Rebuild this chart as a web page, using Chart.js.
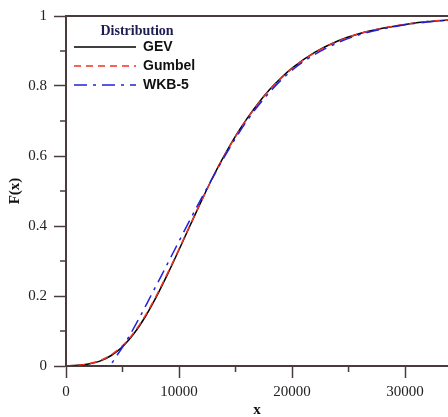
<!DOCTYPE html>
<html>
<head>
<meta charset="utf-8">
<script src="https://cdn.jsdelivr.net/npm/chart.js@4.4.1/dist/chart.umd.min.js"></script>
<style>
  html, body { margin: 0; padding: 0; background: #fff; }
  #wrap { width: 448px; height: 417px; }
</style>
</head>
<body>
<div id="wrap"><canvas id="cdfChart" width="448" height="417"></canvas></div>
<script>
// Values
const xValues = [0, 1000, 2000, 3000, 4000, 5000, 6000, 7000, 8000, 9000, 10000, 11000, 12000,
    13000, 14000, 15000, 16000, 17000, 18000, 19000, 20000, 22000, 24000, 26000, 28000, 30000, 32000, 34000];
const gevValues = [0.0004, 0.0018, 0.0058, 0.014, 0.030, 0.055, 0.092, 0.140, 0.198, 0.263, 0.332, 0.403, 0.473,
    0.540, 0.601, 0.657, 0.706, 0.750, 0.789, 0.822, 0.851, 0.896, 0.928, 0.950, 0.965, 0.976, 0.984, 0.989];
const gumbelValues = [0.0006, 0.0022, 0.0065, 0.0155, 0.032, 0.058, 0.095, 0.143, 0.201, 0.266, 0.334, 0.404, 0.473,
    0.539, 0.600, 0.656, 0.705, 0.749, 0.788, 0.821, 0.850, 0.895, 0.927, 0.950, 0.965, 0.976, 0.984, 0.989];

const wkbX = [0, 1000, 2000, 3000, 3800, 4500, 5500, 6500, 7500, 8500, 9500, 10500, 11500, 12500,
    14000, 16000, 18000, 20000, 22000, 24000, 26000, 28000, 30000, 32000, 34000];
const wkbValues = [0, 0, 0, 0, 0.002, 0.030, 0.080, 0.138, 0.200, 0.262, 0.325, 0.388, 0.450, 0.510,
    0.597, 0.700, 0.782, 0.845, 0.890, 0.923, 0.947, 0.963, 0.975, 0.983, 0.989];

const seriesNames = ['GEV', 'Gumbel', 'WKB-5'];
const legendTitle = 'Distribution';
const xTitle = 'x';
const yTitle = 'F(x)';

// tick labels on the axes, and the unlabelled ticks in between
const xTickValues = [0, 10000, 20000, 30000];
const yTickValues = [0, 0.2, 0.4, 0.6, 0.8, 1];
const xMinorTicks = [5000, 15000, 25000];
const yMinorTicks = [0.1, 0.3, 0.5, 0.7, 0.9];

const axisColor = '#4a3c3c';
const serif = '"Liberation Serif", "Times New Roman", serif';

function toPoints(xs, ys) {
    return xs.map((x, i) => ({ x: x, y: ys[i] }));
}

// Frame top line, minor ticks and the boxed-in legend
const extrasPlugin = {
    id: 'extras',
    afterDraw(chart) {
        const ctx = chart.ctx;
        const area = chart.chartArea;
        const xs = chart.scales.x;
        const ys = chart.scales.y;
        ctx.save();
        ctx.strokeStyle = axisColor;
        ctx.lineWidth = 2;
        ctx.beginPath();
        ctx.moveTo(area.left, area.top);
        ctx.lineTo(area.right, area.top);
        ctx.stroke();

        // minor ticks
        ctx.lineWidth = 1.5;
        ctx.beginPath();
        xMinorTicks.forEach(v => {
            const px = xs.getPixelForValue(v);
            ctx.moveTo(px, area.bottom);
            ctx.lineTo(px, area.bottom + 6);
        });
        yMinorTicks.forEach(v => {
            const py = ys.getPixelForValue(v);
            ctx.moveTo(area.left, py);
            ctx.lineTo(area.left - 6, py);
        });
        ctx.stroke();

        // legend
        const lx = area.left + 8;
        ctx.fillStyle = '#1c1c4e';
        ctx.font = 'bold 14px ' + serif;
        ctx.textAlign = 'center';
        ctx.textBaseline = 'middle';
        ctx.fillText(legendTitle, 137, 31);
        chart.data.datasets.forEach((ds, i) => {
            const y = 47 + i * 19;
            ctx.strokeStyle = ds.borderColor;
            ctx.lineWidth = 1.5;
            ctx.setLineDash(ds.borderDash || []);
            ctx.beginPath();
            ctx.moveTo(lx, y);
            ctx.lineTo(lx + 62, y);
            ctx.stroke();
            ctx.setLineDash([]);
            ctx.fillStyle = '#111';
            ctx.font = 'bold 14px "Liberation Sans", Arial, sans-serif';
            ctx.textAlign = 'left';
            ctx.fillText(ds.label, lx + 69, y);
        });
        ctx.restore();
    }
};

const ctx = document.getElementById('cdfChart').getContext('2d');

new Chart(ctx, {
    type: 'line',
    data: {
        datasets: [
            {
                label: seriesNames[0],
                data: toPoints(xValues, gevValues),
                borderColor: '#000000',
                borderWidth: 1.5,
                pointRadius: 0,
                cubicInterpolationMode: 'monotone',
                order: 2,
                fill: false
            },
            {
                label: seriesNames[1],
                data: toPoints(xValues, gumbelValues),
                borderColor: '#ee3322',
                borderWidth: 1.5,
                borderDash: [7, 5],
                pointRadius: 0,
                cubicInterpolationMode: 'monotone',
                order: 1,
                fill: false
            },
            {
                label: seriesNames[2],
                data: toPoints(wkbX, wkbValues),
                borderColor: '#2222dd',
                borderWidth: 1.5,
                borderDash: [13, 6, 3, 6],
                pointRadius: 0,
                cubicInterpolationMode: 'monotone',
                order: 0,
                fill: false
            }
        ]
    },
    options: {
        responsive: false,
        animation: false,
        layout: { padding: { top: 12, right: 0, left: 0, bottom: 0 } },
        plugins: {
            legend: { display: false },
            tooltip: { enabled: false }
        },
        scales: {
            x: {
                type: 'linear',
                min: 0,
                max: 33800,
                afterFit: (scale) => { scale.height = 51; },
                afterBuildTicks: (scale) => { scale.ticks = xTickValues.map(v => ({ value: v })); },
                ticks: {
                    maxRotation: 0,
                    autoSkip: false,
                    padding: 5,
                    color: '#222',
                    callback: (v) => String(v),
                    font: { family: serif, size: 15 }
                },
                grid: { drawOnChartArea: false, tickLength: 12, tickWidth: 1.5, tickColor: axisColor },
                border: { color: axisColor, width: 2 },
                title: {
                    display: true,
                    text: xTitle,
                    color: '#111',
                    padding: { top: 0, bottom: -1 },
                    font: { family: serif, size: 15, weight: 'bold', lineHeight: 1 }
                }
            },
            y: {
                min: 0,
                max: 1,
                afterFit: (scale) => { scale.width = 66; },
                afterBuildTicks: (scale) => { scale.ticks = yTickValues.map(v => ({ value: v })); },
                ticks: {
                    autoSkip: false,
                    padding: 7,
                    color: '#222',
                    callback: (v) => String(v),
                    font: { family: serif, size: 15 }
                },
                grid: { drawOnChartArea: false, tickLength: 12, tickWidth: 1.5, tickColor: axisColor },
                border: { color: axisColor, width: 2 },
                title: {
                    display: true,
                    text: yTitle,
                    color: '#111',
                    padding: { top: 8, bottom: 0 },
                    font: { family: serif, size: 15, weight: 'bold', lineHeight: 1 }
                }
            }
        }
    },
    plugins: [extrasPlugin]
});
</script>
</body>
</html>
